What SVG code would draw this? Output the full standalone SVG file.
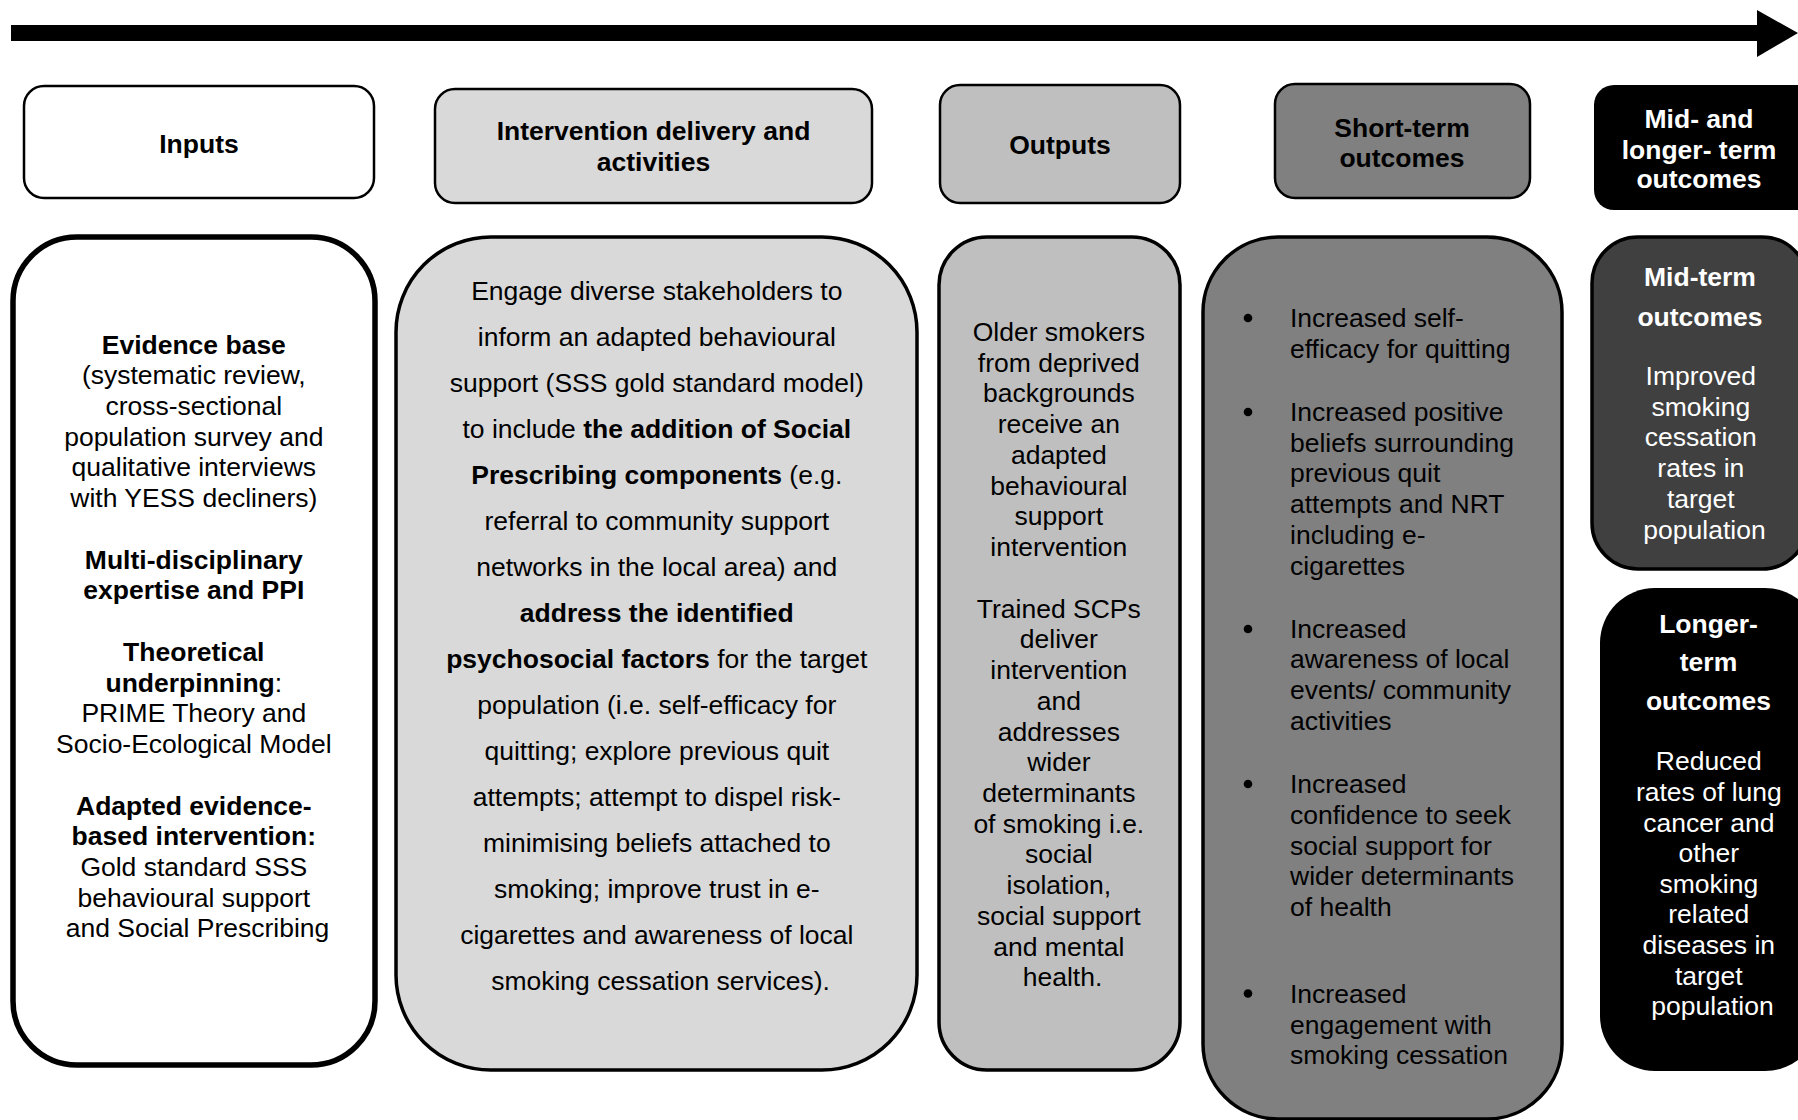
<svg xmlns="http://www.w3.org/2000/svg" width="1798" height="1120" viewBox="0 0 1798 1120">
  <style>
    text { font-family: "Liberation Sans", Arial, sans-serif; font-size: 26.5px; fill: #000; }
    .c { text-anchor: middle; }
    .b { font-weight: bold; }
    .w { fill: #fff; }
    .hdr { stroke: #000; stroke-width: 2.5; }
    .col { stroke: #000; stroke-width: 3.5; }
    .dot { fill: #000; }
  </style>

  <!-- timeline arrow -->
  <g id="connectors">
    <polygon points="11,25 1757,25 1757,10 1798,33 1757,57 1757,41 11,41" fill="#000"/>
  </g>

  <!-- column headers -->
  <g id="hdr-inputs">
    <rect class="hdr" x="24" y="86" width="350" height="112" rx="20" fill="#fff"/>
    <text class="c b" x="199" y="152.5">Inputs</text>
  </g>
  <g id="hdr-intervention">
    <rect class="hdr" x="435" y="89" width="437" height="114" rx="20" fill="#d9d9d9"/>
    <text class="c b" x="653.5" y="140.2">Intervention delivery and</text>
    <text class="c b" x="653.5" y="171.2">activities</text>
  </g>
  <g id="hdr-outputs">
    <rect class="hdr" x="940" y="85" width="240" height="118" rx="20" fill="#bfbfbf"/>
    <text class="c b" x="1060" y="154">Outputs</text>
  </g>
  <g id="hdr-short">
    <rect class="hdr" x="1275" y="84" width="255" height="114" rx="20" fill="#808080"/>
    <text class="c b" x="1402" y="136.8">Short-term</text>
    <text class="c b" x="1402" y="166.6">outcomes</text>
  </g>
  <g id="hdr-long">
    <rect x="1594" y="85" width="230" height="125" rx="20" fill="#000"/>
    <text class="c b w" x="1699" y="127.6">Mid- and</text>
    <text class="c b w" x="1699" y="158.6">longer- term</text>
    <text class="c b w" x="1699" y="188.4">outcomes</text>
  </g>

  <!-- inputs column -->
  <g id="inputs">
    <rect x="13" y="237" width="362" height="828" rx="64" fill="#fff" stroke="#000" stroke-width="5.5"/>
    <text class="c" x="197.5">
      <tspan x="197.5" y="353.5" class="b">Evidence base</tspan>
      <tspan x="197.5" y="384.2">(systematic review,</tspan>
      <tspan x="197.5" y="415">cross-sectional</tspan>
      <tspan x="197.5" y="445.7">population survey and</tspan>
      <tspan x="197.5" y="476.4">qualitative interviews</tspan>
      <tspan x="197.5" y="507.2">with YESS decliners)</tspan>
      <tspan x="197.5" y="568.6" class="b">Multi-disciplinary</tspan>
      <tspan x="197.5" y="599.3" class="b">expertise and PPI</tspan>
      <tspan x="197.5" y="660.8" class="b">Theoretical</tspan>
      <tspan x="197.5" y="691.5"><tspan class="b">underpinning</tspan>:</tspan>
      <tspan x="197.5" y="722.3">PRIME Theory and</tspan>
      <tspan x="197.5" y="753">Socio-Ecological Model</tspan>
      <tspan x="197.5" y="814.5" class="b">Adapted evidence-</tspan>
      <tspan x="197.5" y="845.2" class="b">based intervention:</tspan>
      <tspan x="197.5" y="875.9">Gold standard SSS</tspan>
      <tspan x="197.5" y="906.6">behavioural support</tspan>
      <tspan x="197.5" y="937.4">and Social Prescribing</tspan>
    </text>
  </g>

  <!-- intervention delivery column -->
  <g id="intervention">
    <rect class="col" x="396" y="237" width="521" height="833" rx="95" fill="#d9d9d9"/>
    <text class="c" x="660.5">
      <tspan x="660.5" y="299.5">Engage diverse stakeholders to</tspan>
      <tspan x="660.5" y="345.5">inform an adapted behavioural</tspan>
      <tspan x="660.5" y="391.5">support (SSS gold standard model)</tspan>
      <tspan x="660.5" y="437.5">to include <tspan class="b">the addition of Social</tspan></tspan>
      <tspan x="660.5" y="483.5"><tspan class="b">Prescribing components</tspan> (e.g.</tspan>
      <tspan x="660.5" y="529.5">referral to community support</tspan>
      <tspan x="660.5" y="575.5">networks in the local area) and</tspan>
      <tspan x="660.5" y="621.5" class="b">address the identified</tspan>
      <tspan x="660.5" y="667.5"><tspan class="b">psychosocial factors</tspan> for the target</tspan>
      <tspan x="660.5" y="713.5">population (i.e. self-efficacy for</tspan>
      <tspan x="660.5" y="759.5">quitting; explore previous quit</tspan>
      <tspan x="660.5" y="805.5">attempts; attempt to dispel risk-</tspan>
      <tspan x="660.5" y="851.5">minimising beliefs attached to</tspan>
      <tspan x="660.5" y="897.5">smoking; improve trust in e-</tspan>
      <tspan x="660.5" y="943.5">cigarettes and awareness of local</tspan>
      <tspan x="660.5" y="989.5">smoking cessation services).</tspan>
    </text>
  </g>

  <!-- outputs column -->
  <g id="outputs">
    <rect class="col" x="939" y="237" width="241" height="833" rx="48" fill="#bfbfbf"/>
    <text class="c" x="1062.5">
      <tspan x="1062.5" y="341">Older smokers</tspan>
      <tspan x="1062.5" y="371.7">from deprived</tspan>
      <tspan x="1062.5" y="402.4">backgrounds</tspan>
      <tspan x="1062.5" y="433.2">receive an</tspan>
      <tspan x="1062.5" y="463.9">adapted</tspan>
      <tspan x="1062.5" y="494.7">behavioural</tspan>
      <tspan x="1062.5" y="525.4">support</tspan>
      <tspan x="1062.5" y="556.1">intervention</tspan>
      <tspan x="1062.5" y="617.6">Trained SCPs</tspan>
      <tspan x="1062.5" y="648.3">deliver</tspan>
      <tspan x="1062.5" y="679">intervention</tspan>
      <tspan x="1062.5" y="709.8">and</tspan>
      <tspan x="1062.5" y="740.5">addresses</tspan>
      <tspan x="1062.5" y="771.2">wider</tspan>
      <tspan x="1062.5" y="802">determinants</tspan>
      <tspan x="1062.5" y="832.7">of smoking i.e.</tspan>
      <tspan x="1062.5" y="863.4">social</tspan>
      <tspan x="1062.5" y="894.2">isolation,</tspan>
      <tspan x="1062.5" y="924.9">social support</tspan>
      <tspan x="1062.5" y="955.6">and mental</tspan>
      <tspan x="1062.5" y="986.4">health.</tspan>
    </text>
  </g>

  <!-- short-term outcomes column -->
  <g id="short-term">
    <rect class="col" x="1203" y="237" width="359" height="882" rx="75" fill="#808080"/>
    <circle class="dot" cx="1248" cy="318" r="4.3"/>
    <circle class="dot" cx="1248" cy="412" r="4.3"/>
    <circle class="dot" cx="1248" cy="629" r="4.3"/>
    <circle class="dot" cx="1248" cy="784" r="4.3"/>
    <circle class="dot" cx="1248" cy="993.5" r="4.3"/>
    <text x="1290">
      <tspan x="1290" y="327">Increased self-</tspan>
      <tspan x="1290" y="358">efficacy for quitting</tspan>
      <tspan x="1290" y="421">Increased positive</tspan>
      <tspan x="1290" y="452">beliefs surrounding</tspan>
      <tspan x="1290" y="482">previous quit</tspan>
      <tspan x="1290" y="513">attempts and NRT</tspan>
      <tspan x="1290" y="544">including e-</tspan>
      <tspan x="1290" y="575">cigarettes</tspan>
      <tspan x="1290" y="638">Increased</tspan>
      <tspan x="1290" y="668">awareness of local</tspan>
      <tspan x="1290" y="699">events/ community</tspan>
      <tspan x="1290" y="730">activities</tspan>
      <tspan x="1290" y="793">Increased</tspan>
      <tspan x="1290" y="824">confidence to seek</tspan>
      <tspan x="1290" y="855">social support for</tspan>
      <tspan x="1290" y="884.5">wider determinants</tspan>
      <tspan x="1290" y="915.5">of health</tspan>
      <tspan x="1290" y="1002.5">Increased</tspan>
      <tspan x="1290" y="1033.5">engagement with</tspan>
      <tspan x="1290" y="1063.5">smoking cessation</tspan>
    </text>
  </g>

  <!-- mid-term outcomes -->
  <g id="mid-term">
    <rect class="col" x="1592" y="237" width="216" height="332" rx="46" fill="#404040"/>
    <text class="c b w" x="1700" y="286">Mid-term</text>
    <text class="c b w" x="1700" y="326">outcomes</text>
    <text class="c w" x="1704.5">
      <tspan x="1704.5" y="384.5">Improved</tspan>
      <tspan x="1704.5" y="415.5">smoking</tspan>
      <tspan x="1704.5" y="446.4">cessation</tspan>
      <tspan x="1704.5" y="477.4">rates in</tspan>
      <tspan x="1704.5" y="508.3">target</tspan>
      <tspan x="1704.5" y="539.3">population</tspan>
    </text>
  </g>

  <!-- longer-term outcomes -->
  <g id="longer-term">
    <rect x="1600" y="588" width="220" height="483" rx="55" fill="#000"/>
    <text class="c b w" x="1708.5" y="633.3">Longer-</text>
    <text class="c b w" x="1708.5" y="671.1">term</text>
    <text class="c b w" x="1708.5" y="710.1">outcomes</text>
    <text class="c w" x="1712.5">
      <tspan x="1712.5" y="769.8">Reduced</tspan>
      <tspan x="1712.5" y="800.7">rates of lung</tspan>
      <tspan x="1712.5" y="831.7">cancer and</tspan>
      <tspan x="1712.5" y="861.5">other</tspan>
      <tspan x="1712.5" y="892.5">smoking</tspan>
      <tspan x="1712.5" y="923.4">related</tspan>
      <tspan x="1712.5" y="954.4">diseases in</tspan>
      <tspan x="1712.5" y="985.3">target</tspan>
      <tspan x="1712.5" y="1015.2">population</tspan>
    </text>
  </g>
</svg>
